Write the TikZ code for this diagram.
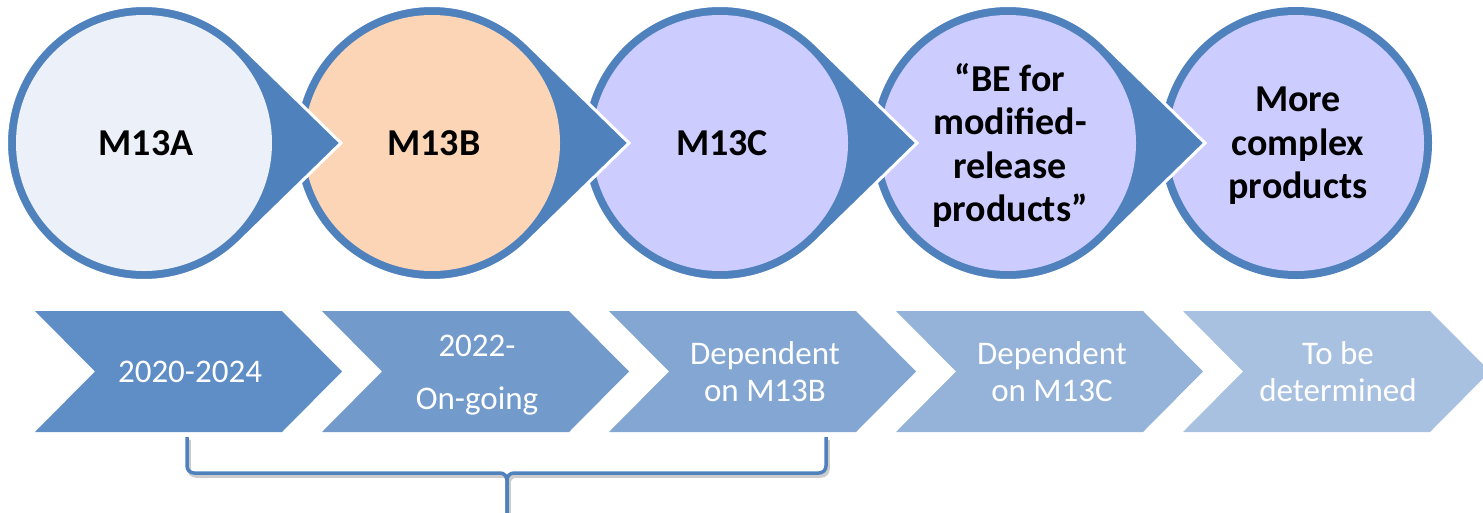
\documentclass[tikz,border=0pt]{standalone}
\usepackage{fontspec}
\setmainfont{Carlito}
\usetikzlibrary{calc}
\definecolor{ringblue}{HTML}{4F81BD}
\definecolor{fillA}{HTML}{ECF1F9}
\definecolor{fillB}{HTML}{FBD5B5}
\definecolor{fillC}{HTML}{CCCCFF}
\definecolor{chevA}{HTML}{5F8DC5}
\definecolor{chevB}{HTML}{729BCB}
\definecolor{chevC}{HTML}{83A7D2}
\definecolor{chevD}{HTML}{95B3D8}
\definecolor{chevE}{HTML}{A8C1E0}
\newcommand\teardrop[1]{\path[tear] ($(#1)+(197,0)$) -- ($(#1)+(45.7:137.5)$) arc[start angle=45.7,end angle=314.3,radius=137.5] -- cycle;}
\begin{document}
\begin{tikzpicture}[x=1pt,y=1pt,
  tear/.style={fill=ringblue, draw=white, line width=3pt},
  disc/.style={circle, minimum size=256pt, inner sep=0pt, align=center,
    font=\fontsize{38}{43.5}\selectfont\bfseries, text=black},
  chevtext/.style={align=center, text=white, font=\fontsize{33}{37}\selectfont},
  brace/.style={draw=ringblue, line width=3.5pt, rounded corners=7pt}]
\useasboundingbox (0,0) rectangle (1483,-512);

\coordinate (p1) at (144,-143);
\coordinate (p2) at (432,-143);
\coordinate (p3) at (720,-143);
\coordinate (p4) at (1008,-143);
\coordinate (p5) at (1296,-143);

% circle 5 (no pointer)
\fill[ringblue] (p5) circle[radius=136];
\fill[fillC] (p5) circle[radius=128];
\node[disc] (c5) at ([shift={(2,-3)}]p5) {More\\complex\\products};
% circle 4
\teardrop{p4}
\fill[fillC] (p4) circle[radius=128];
\node[disc] (c4) at ([shift={(2,-2.5)}]p4) {“BE for\\modified-\\release\\products”};
% circle 3
\teardrop{p3}
\fill[fillC] (p3) circle[radius=128];
\node[disc] (c3) at ([shift={(2,0)}]p3) {M13C};
% circle 2
\teardrop{p2}
\fill[fillB] (p2) circle[radius=128];
\node[disc] (c2) at ([shift={(2,0)}]p2) {M13B};
% circle 1
\teardrop{p1}
\fill[fillA] (p1) circle[radius=128];
\node[disc] (c1) at ([shift={(2,0)}]p1) {M13A};

% chevrons
\fill[chevA] (35,-311) -- (282,-311) -- (342,-371.5) -- (282,-432) -- (35,-432) -- (95,-371.5) -- cycle;
\fill[chevB] (322,-311) -- (569,-311) -- (629,-371.5) -- (569,-432) -- (322,-432) -- (382,-371.5) -- cycle;
\fill[chevC] (609,-311) -- (856,-311) -- (916,-371.5) -- (856,-432) -- (609,-432) -- (669,-371.5) -- cycle;
\fill[chevD] (896,-311) -- (1143,-311) -- (1203,-371.5) -- (1143,-432) -- (896,-432) -- (956,-371.5) -- cycle;
\fill[chevE] (1183,-311) -- (1430,-311) -- (1490,-371.5) -- (1430,-432) -- (1183,-432) -- (1243,-371.5) -- cycle;

\node[chevtext] (t1) at (190,-371.5) {2020-2024};
\node[chevtext] (t2) at (477,-375) {2022-\\[16pt]On-going};
\node[chevtext] (t3) at (765,-371.5) {Dependent\\on M13B};
\node[chevtext] (t4) at (1052,-371.5) {Dependent\\on M13C};
\node[chevtext] (t5) at (1338,-371.5) {To be\\determined};

% bracket
\coordinate (bl) at (187,-437);
\coordinate (br) at (826,-437);
\coordinate (bm) at (507,-473);
\coordinate (bs) at (507,-530);
\begin{scope}[transform canvas={shift={(2pt,-3pt)}}]
\draw[brace, draw=black!20] (bl) |- (bm) -- (bs);
\draw[brace, draw=black!20] (br) |- (bm) -- (bs);
\end{scope}
\draw[brace] (bl) |- (bm) -- (bs);
\draw[brace] (br) |- (bm) -- (bs);
\end{tikzpicture}
\end{document}
